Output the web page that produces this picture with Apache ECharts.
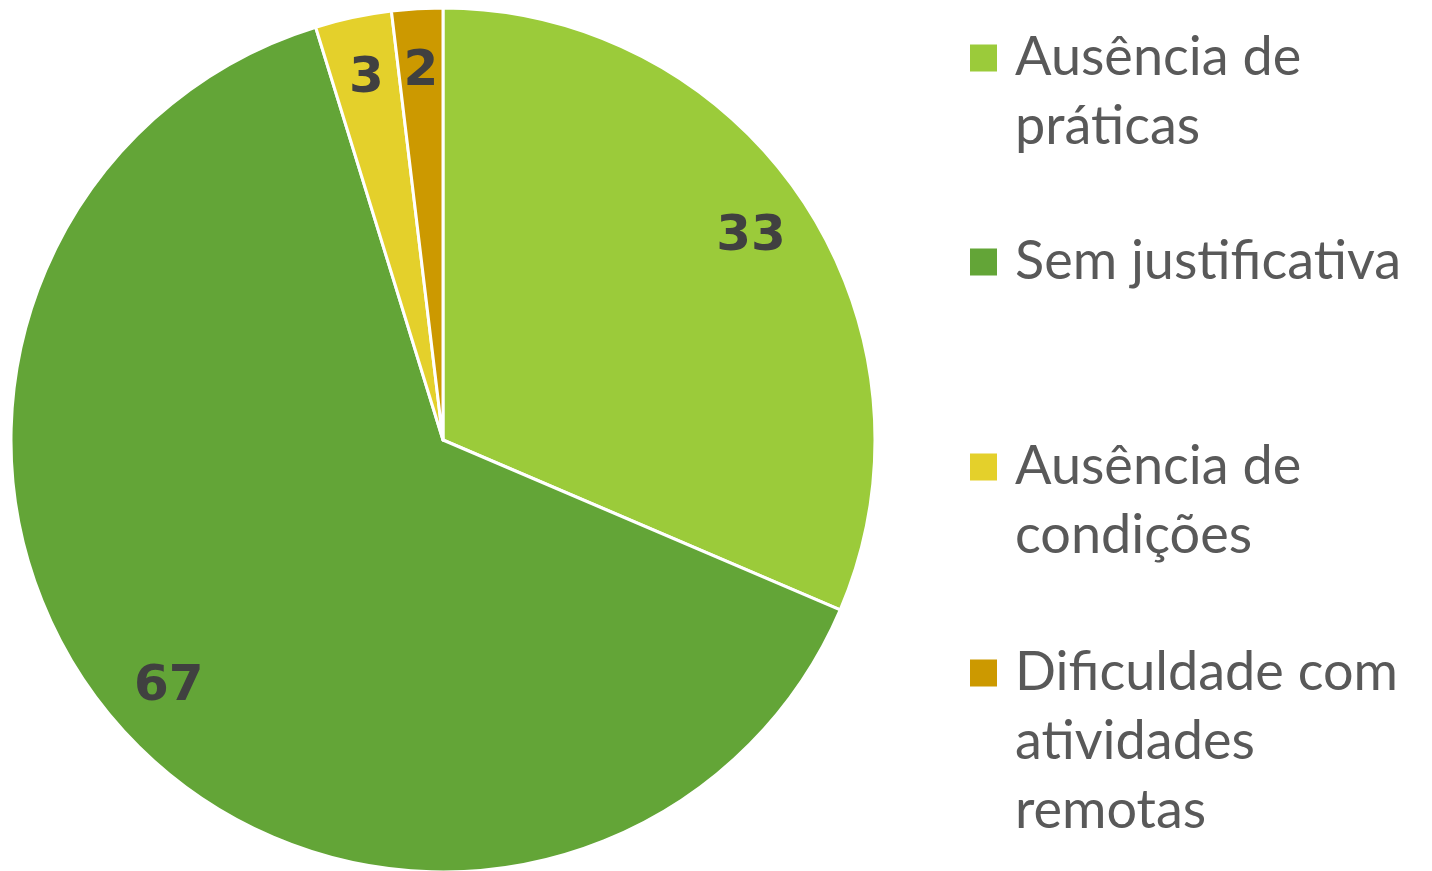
<!DOCTYPE html>
<html>
<head>
<meta charset="utf-8">
<script src="https://cdn.jsdelivr.net/npm/echarts@6/dist/echarts.min.js"></script>
<style>
  html, body { margin: 0; padding: 0; background: #fff; }
  #chart { width: 1432px; height: 871px; }
</style>
</head>
<body>
<div id="chart"></div>
<script>
const categories = ['Ausência de práticas', 'Sem justificativa', 'Ausência de condições', 'Dificuldade com atividades remotas'];
const legendLines = [['Ausência de', 'práticas'], ['Sem justificativa'], ['Ausência de', 'condições'], ['Dificuldade com', 'atividades', 'remotas']];
const values = [33, 67, 3, 2];
const colors = ['#9BCB3A', '#63A537', '#E4D02B', '#CC9900'];
const legendFirstLineY = [58, 262, 467, 673];

const LINE_H = 69;
const SQ = 27;

let chart = echarts.init(document.getElementById('chart'));

let pieData = categories.map((name, i) => ({
  name: name,
  value: values[i],
  itemStyle: { color: colors[i] }
}));

// square sitting on the first text line; the hairlines only stretch the icon box to the text height
function iconFor(lines) {
  let h = lines * LINE_H;
  let y0 = LINE_H / 2 - SQ / 2;
  return 'path://M0,0L' + SQ + ',0L' + SQ + ',0Z' +
    'M0,' + y0 + 'L' + SQ + ',' + y0 + 'L' + SQ + ',' + (y0 + SQ) + 'L0,' + (y0 + SQ) + 'Z' +
    'M0,' + h + 'L' + SQ + ',' + h + 'L' + SQ + ',' + h + 'Z';
}

// one legend per item so each can sit where the reference puts it
let legends = categories.map((name, i) => ({
  data: [name],
  orient: 'vertical',
  left: 970,
  top: legendFirstLineY[i] - LINE_H / 2,
  padding: 0,
  icon: iconFor(legendLines[i].length),
  itemWidth: SQ,
  itemHeight: legendLines[i].length * LINE_H,
  itemGap: 0,
  selectedMode: false,
  itemStyle: { borderWidth: 0 },
  formatter: () => legendLines[i].join('\n'),
  textStyle: {
    fontFamily: 'Lato',
    fontSize: 54,
    lineHeight: LINE_H,
    color: '#595959',
    padding: [0, 0, 0, 13]
  }
}));

let option = {
  backgroundColor: '#fff',
  animation: false,
  legend: legends,
  series: [
    {
      type: 'pie',
      center: [443, 440],
      radius: 432,
      startAngle: 90,
      clockwise: true,
      data: pieData,
      label: { show: false },
      labelLine: { show: false },
      itemStyle: { borderColor: '#fff', borderWidth: 3 }
    },
    {
      // invisible ring used only to place the labels near the rim
      type: 'pie',
      center: [443, 440],
      radius: [300, 432],
      startAngle: 90,
      clockwise: true,
      silent: true,
      data: categories.map((name, i) => ({ name: name + ' ', value: values[i] })),
      itemStyle: { color: 'rgba(0,0,0,0)' },
      label: {
        show: true,
        position: 'inside',
        formatter: '{c}',
        fontFamily: 'DejaVu Sans',
        fontWeight: 'bold',
        fontSize: 50,
        color: '#404040'
      },
      labelLine: { show: false }
    }
  ]
};

chart.setOption(option);
</script>
</body>
</html>
